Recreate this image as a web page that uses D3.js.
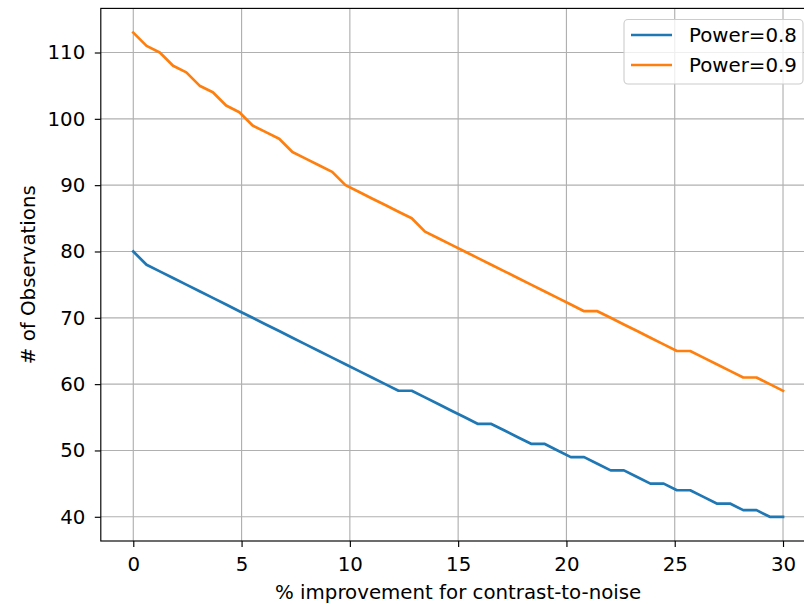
<!DOCTYPE html>
<html>
<head>
<meta charset="utf-8">
<script src="https://cdn.jsdelivr.net/npm/d3@7"></script>
<style>
  html, body { margin: 0; padding: 0; background: #fff; }
  svg { display: block; font-family: "DejaVu Sans", sans-serif; }
</style>
</head>
<body>
<svg id="chart" width="804" height="604"></svg>
<script>
// % improvement for contrast-to-noise (50 evenly spaced points, 0–30)
const improvement = [
  0, 0.612, 1.224, 1.837, 2.449, 3.061, 3.673, 4.286, 4.898, 5.510,
  6.122, 6.735, 7.347, 7.959, 8.571, 9.184, 9.796, 10.408, 11.020, 11.633,
  12.245, 12.857, 13.469, 14.082, 14.694, 15.306, 15.918, 16.531, 17.143, 17.755,
  18.367, 18.980, 19.592, 20.204, 20.816, 21.429, 22.041, 22.653, 23.265, 23.878,
  24.490, 25.102, 25.714, 26.327, 26.939, 27.551, 28.163, 28.776, 29.388, 30
];

// Required number of observations at power 0.8
const obsPower08 = [
  80, 78, 77, 76, 75, 74, 73, 72, 71, 70,
  69, 68, 67, 66, 65, 64, 63, 62, 61, 60,
  59, 59, 58, 57, 56, 55, 54, 54, 53, 52,
  51, 51, 50, 49, 49, 48, 47, 47, 46, 45,
  45, 44, 44, 43, 42, 42, 41, 41, 40, 40
];

// Required number of observations at power 0.9
const obsPower09 = [
  113, 111, 110, 108, 107, 105, 104, 102, 101, 99,
  98, 97, 95, 94, 93, 92, 90, 89, 88, 87,
  86, 85, 83, 82, 81, 80, 79, 78, 77, 76,
  75, 74, 73, 72, 71, 71, 70, 69, 68, 67,
  66, 65, 65, 64, 63, 62, 61, 61, 60, 59
];

const seriesNames = ["Power=0.8", "Power=0.9"];
const seriesColors = ["#1f77b4", "#ff7f0e"];
const xTicks = [0, 5, 10, 15, 20, 25, 30];
const yTicks = [40, 50, 60, 70, 80, 90, 100, 110];

const series = [obsPower08, obsPower09].map((vals, i) => ({
  name: seriesNames[i],
  color: seriesColors[i],
  points: vals.map((v, j) => [improvement[j], v])
}));

// Plot area (extends past the right edge of the canvas)
const plot = { left: 100.8, top: 8.4, right: 815.5, bottom: 541 };
const FONT = 19.8;

// Data limits with a 5% margin on each side
function padded(lo, hi) { const m = (hi - lo) * 0.05; return [lo - m, hi + m]; }
const xExt = d3.extent(improvement);
const yExt = d3.extent(obsPower08.concat(obsPower09));

const x = d3.scaleLinear().domain(padded(xExt[0], xExt[1])).range([plot.left, plot.right]);
const y = d3.scaleLinear().domain(padded(yExt[0], yExt[1])).range([plot.bottom, plot.top]);

const svg = d3.select("#chart");

// Grid
const grid = svg.append("g").attr("stroke", "#b0b0b0").attr("stroke-width", 1.15);
grid.selectAll(".gx").data(xTicks).join("line")
  .attr("x1", d => x(d)).attr("x2", d => x(d))
  .attr("y1", plot.top).attr("y2", plot.bottom);
grid.selectAll(".gy").data(yTicks).join("line")
  .attr("x1", plot.left).attr("x2", plot.right)
  .attr("y1", d => y(d)).attr("y2", d => y(d));

// Lines
const line = d3.line().x(d => x(d[0])).y(d => y(d[1]));
svg.append("g").selectAll("path").data(series).join("path")
  .attr("fill", "none")
  .attr("stroke", d => d.color)
  .attr("stroke-width", 2.7)
  .attr("stroke-linejoin", "round")
  .attr("stroke-linecap", "square")
  .attr("d", d => line(d.points));

// Axes
const xAxis = d3.axisBottom(x).tickValues(xTicks).tickSize(6).tickPadding(9.5).tickFormat(d3.format("d"));
const yAxis = d3.axisLeft(y).tickValues(yTicks).tickSize(6).tickPadding(9.5).tickFormat(d3.format("d"));

const gx = svg.append("g").attr("transform", `translate(0,${plot.bottom})`).call(xAxis);
const gy = svg.append("g").attr("transform", `translate(${plot.left},0)`).call(yAxis);
[gx, gy].forEach(g => {
  g.select(".domain").remove();
  g.selectAll(".tick line").attr("stroke", "#000").attr("stroke-width", 1.15);
  g.selectAll(".tick text").attr("fill", "#000").attr("font-size", FONT)
    .attr("font-family", "DejaVu Sans, sans-serif");
});

// Frame
svg.append("rect")
  .attr("x", plot.left).attr("y", plot.top)
  .attr("width", plot.right - plot.left).attr("height", plot.bottom - plot.top)
  .attr("fill", "none").attr("stroke", "#000").attr("stroke-width", 1.15);

// Axis titles
svg.append("text")
  .attr("x", (plot.left + plot.right) / 2).attr("y", 599)
  .attr("text-anchor", "middle").attr("font-size", FONT).attr("fill", "#000")
  .text("% improvement for contrast-to-noise");
svg.append("text")
  .attr("transform", `translate(35,${(plot.top + plot.bottom) / 2}) rotate(-90)`)
  .attr("text-anchor", "middle").attr("font-size", FONT).attr("fill", "#000")
  .text("# of Observations");

// Legend
const legend = svg.append("g");
legend.append("rect")
  .attr("x", 624).attr("y", 19.5).attr("width", 179).attr("height", 64.5)
  .attr("rx", 4).attr("fill", "#fff").attr("fill-opacity", 0.8)
  .attr("stroke", "#cccccc").attr("stroke-width", 1.1);
const items = legend.selectAll(".item").data(series).join("g")
  .attr("transform", (d, i) => `translate(0,${35 + i * 30})`);
items.append("line")
  .attr("x1", 631).attr("x2", 672).attr("y1", 0).attr("y2", 0)
  .attr("stroke", d => d.color).attr("stroke-width", 2.7);
items.append("text")
  .attr("x", 689).attr("y", 0).attr("dy", "0.36em")
  .attr("font-size", FONT).attr("fill", "#000")
  .text(d => d.name);
</script>
</body>
</html>
